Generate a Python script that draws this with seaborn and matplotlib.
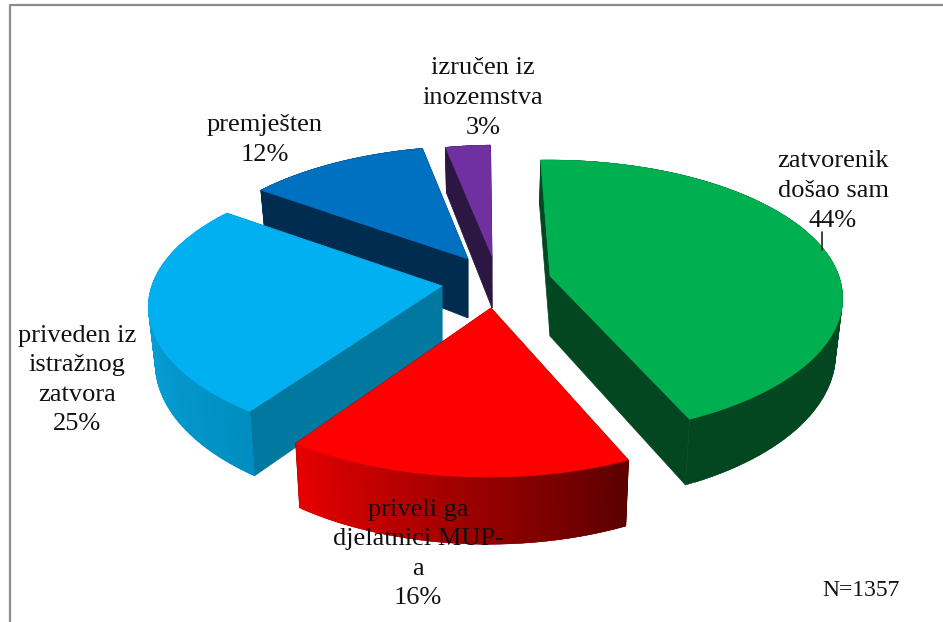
import numpy as np
import seaborn as sns
import matplotlib.pyplot as plt
from matplotlib.patches import Polygon

categories = [
    "zatvorenik\ndošao sam",
    "priveli ga\ndjelatnici MUP-\na",
    "priveden iz\nistražnog\nzatvora",
    "premješten",
    "izručen iz\ninozemstva",
]
shares = [44, 16, 25, 12, 3]
note = "N=1357"

top_colors = ["#00b050", "#ff0000", "#00b0f0", "#0070c0", "#7030a0"]
side_colors = ["#034721", "#5c0000", "#00789f", "#002d4f", "#2c1642"]
arc_colors = [("#034721", "#034721"), ("#e60000", "#5c0000"), ("#10b4f2", "#008ec0"),
              ("#002d4f", "#002d4f"), ("#2c1642", "#2c1642")]

# apex of each exploded slice and the centre its rim is drawn around, in pixels
apex = [(550, 276), (491, 308), (442, 286), (468, 259), (492, 256)]
rim_center = [(549, 271), (488, 312), (442, 280), (476, 257), (499, 256)]
apex_depth = [60, 60, 60, 59, 52]
label_pos = [(833, 191), (418, 554), (77, 380), (265, 140), (483, 98)]
draw_order = [3, 4, 0, 2, 1]

RX, RY, PERSP, DEPTH = 288, 132.7, 0.196, 54
START_ANGLE = 92
CX = 490


def rim(c, ang):
    # perspective projection of a point on the pie's outer circle
    t = np.radians(ang)
    d = 1 + PERSP * np.sin(t)
    return c[0] + RX * np.cos(t) / d, c[1] - RY * np.sin(t) / d


def rim_low(c, ang):
    x, y = rim(c, ang)
    d = 1 + PERSP * np.sin(np.radians(ang))
    return x - 0.02 * (x - CX), y + DEPTH / d


sns.set_theme(style="white")
plt.rcParams["font.family"] = ["Liberation Serif", "DejaVu Serif"]

fig, ax = plt.subplots(figsize=(9.43, 6.22), dpi=100)
ax.set_position([0, 0, 1, 1])
ax.set_xlim(0, 943)
ax.set_ylim(622, 0)
ax.axis("off")

# chart frame, open to the right and bottom
ax.plot([9.5, 9.5, 943], [622, 5, 5], color="#8c8c8c", lw=1.6)

stops = START_ANGLE - np.cumsum([0] + shares) * 3.6

for i in draw_order:
    a0, a1 = stops[i], stops[i + 1]
    p = apex[i]
    c = rim_center[i]
    low = (p[0], p[1] + apex_depth[i])

    # flat cut faces
    ax.add_patch(Polygon([p, rim(c, a0), rim_low(c, a0), low], fc=side_colors[i], ec=side_colors[i], lw=0.5))
    ax.add_patch(Polygon([p, rim(c, a1), rim_low(c, a1), low], fc=side_colors[i], ec=side_colors[i], lw=0.5))

    # outer wall with shading along the arc, strips overlap to hide seams
    angs = np.linspace(a1, a0, 91)
    pal = sns.blend_palette(arc_colors[i], len(angs) - 1)
    for j in range(len(angs) - 1):
        k = min(j + 2, len(angs) - 1)
        quad = [rim(c, angs[j]), rim(c, angs[k]), rim_low(c, angs[k]), rim_low(c, angs[j])]
        ax.add_patch(Polygon(quad, fc=pal[j], ec=pal[j], lw=0.3, snap=False))

    # top face
    top = [p] + [rim(c, a) for a in np.linspace(a0, a1, 120)]
    ax.add_patch(Polygon(top, fc=top_colors[i], ec=top_colors[i], lw=0.4))

for name, val, pos in zip(categories, shares, label_pos):
    ax.text(pos[0], pos[1], f"{name}\n{val}%", ha="center", va="center", fontsize=19,
            color="#111111", linespacing=1.45)

# leader line of the green slice
ax.plot([822, 822], [232, 250], color="#222222", lw=1.2)

ax.text(861, 591, note, ha="center", va="center", fontsize=17, color="#111111")

fig.savefig("out.png", dpi=100)
